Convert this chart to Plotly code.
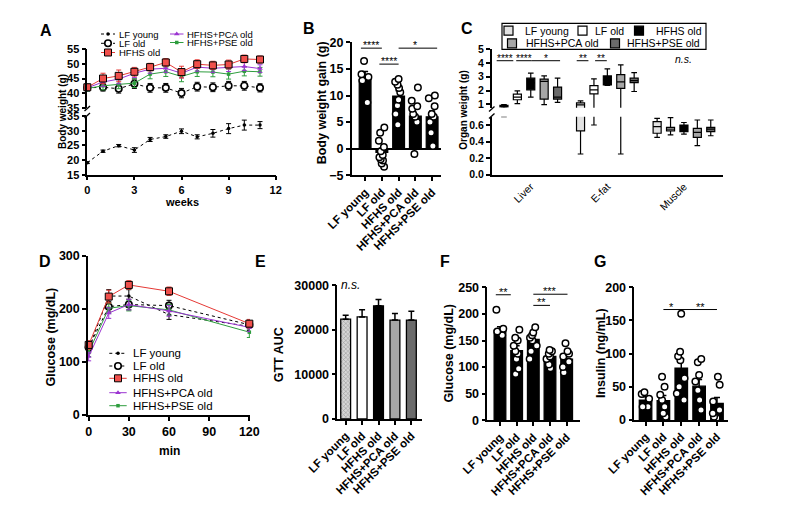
import plotly.graph_objects as go

# The page shows the figure 8 px in from the window's top-left corner, so the
# figure is 8 px smaller and all reference pixel positions are shifted by 8.
W, H = 790, 515
OFF = 8
FW, FH = W - OFF, H - OFF
FONT = "Liberation Sans, Arial, Helvetica, sans-serif"

# ---------------- data ----------------
groups = ["LF young", "LF old", "HFHS old", "HFHS+PCA old", "HFHS+PSE old"]
organs = ["Liver", "E-fat", "Muscle"]

# A: body weight (g) by week
weeks = [0, 1, 2, 3, 4, 5, 6, 7, 8, 9, 10, 11]
a_tick_weeks = [0, 3, 6, 9, 12]
a_lf_young = [19.1, 23.0, 24.9, 23.4, 27.0, 28.0, 29.8, 27.9, 29.1, 30.7, 31.9, 31.9]
a_lf_young_err = [0.3, 0.4, 0.4, 0.8, 0.7, 0.6, 0.8, 0.7, 1.3, 1.7, 1.7, 1.2]
a_lf_old = [41.8, 42.0, 41.5, 43.2, 41.8, 41.8, 40.0, 42.2, 42.0, 42.5, 42.5, 41.8]
a_lf_old_err = [1.2, 1.3, 1.5, 1.6, 1.5, 1.5, 1.6, 1.5, 1.5, 1.5, 1.5, 1.4]
a_hfhs = [42.0, 45.0, 45.9, 47.3, 48.9, 50.5, 47.2, 49.9, 49.5, 49.8, 51.7, 51.5]
a_hfhs_err = [1.0, 1.8, 2.0, 1.5, 1.3, 1.3, 2.0, 1.5, 1.4, 1.5, 1.3, 1.2]
a_pca = [41.8, 43.8, 44.8, 46.8, 48.2, 48.5, 46.8, 48.9, 48.5, 48.8, 49.1, 48.4]
a_pca_err = [1.0, 1.5, 1.6, 1.5, 1.4, 1.4, 1.6, 1.4, 1.4, 1.4, 1.4, 1.3]
a_pse = [41.6, 42.5, 43.0, 43.4, 46.5, 47.3, 45.7, 47.3, 47.2, 46.5, 47.5, 47.3]
a_pse_err = [1.0, 1.4, 1.5, 1.5, 1.6, 1.6, 1.8, 1.6, 1.6, 1.7, 1.6, 1.5]

# B: body weight gain (g)
b_mean = [13.0, -0.7, 9.9, 6.1, 6.0]
b_err = [1.5, 0.8, 1.0, 1.3, 1.1]
b_points = [
    [16.5, 14.0, 13.5, 12.8, 8.7],
    [4.0, 3.0, 1.5, 0.3, -0.5, -1.2, -1.6, -2.0, -2.2, -2.8, -3.4],
    [13.1, 12.6, 12.0, 11.4, 10.6, 9.2, 8.1, 6.5, 4.5],
    [11.5, 9.0, 8.0, 7.5, 6.5, 6.0, 5.0, -1.0],
    [10.0, 9.5, 8.0, 6.5, 6.0, 5.0, 3.0, 0.5],
]

# C: organ weight (g), box statistics per group: [Liver, E-fat, Muscle]
c_lower = [[0.70, 0.25, 0.45], [1.05, 0.60, 0.48], [1.52, 2.38, 0.49], [0.97, 0.25, 0.35], [1.14, 1.93, 0.47]]
c_q1 = [[0.80, 0.53, 0.50], [1.33, 1.76, 0.53], [2.05, 2.41, 0.52], [1.38, 2.15, 0.45], [1.38, 2.58, 0.52]]
c_median = [[0.86, 0.95, 0.58], [1.52, 2.05, 0.55], [2.55, 2.75, 0.56], [2.66, 2.63, 0.51], [1.52, 2.72, 0.55]]
c_q3 = [[0.93, 1.10, 0.64], [1.74, 2.36, 0.57], [2.90, 3.06, 0.60], [2.83, 3.16, 0.56], [2.25, 2.90, 0.57]]
c_upper = [[0.97, 1.25, 0.68], [1.98, 2.85, 0.69], [3.26, 3.57, 0.63], [3.07, 3.86, 0.66], [2.90, 3.30, 0.66]]

# D: glucose tolerance test (mg/dL)
d_minutes = [0, 15, 30, 60, 120]
d_tick_minutes = [0, 30, 60, 90, 120]
d_lf_young = [125, 224, 224, 189, 167]
d_lf_young_err = [8, 12, 12, 9, 8]
d_lf_old = [127, 204, 208, 206, 170]
d_lf_old_err = [8, 10, 10, 10, 8]
d_hfhs = [132, 223, 245, 233, 172]
d_hfhs_err = [8, 12, 8, 8, 8]
d_pca = [110, 192, 208, 196, 165]
d_pca_err = [8, 10, 10, 10, 8]
d_pse = [118, 201, 206, 198, 156]
d_pse_err = [8, 10, 10, 10, 10]

# E: GTT AUC
e_mean = [22400, 22900, 25400, 22200, 22200]
e_err = [900, 1600, 1400, 1500, 2000]

# F: fasting glucose (mg/dL)
f_mean = [169, 131, 152, 120, 115]
f_err = [7, 9, 7, 5, 6]
f_points = [
    [208, 172, 167, 160],
    [170, 155, 150, 140, 130, 125, 115, 97, 87],
    [175, 165, 160, 155, 150, 140, 130, 115],
    [132, 130, 125, 120, 115, 105, 98],
    [145, 130, 125, 120, 110, 100, 90],
]

# G: insulin (ng/mL)
g_mean = [30, 29, 78, 51, 25]
g_err = [5, 8, 14, 10, 9]
g_points = [
    [42, 39, 32, 20, 20],
    [65, 50, 38, 30, 20, 10, 5],
    [160, 103, 96, 90, 63, 50, 40, 30],
    [92, 87, 68, 58, 45, 30, 15],
    [65, 53, 28, 15, 10, 5, 3],
]

# ---------------- styles ----------------
LSTYLE = {
    "LF young": dict(color="black", dash="dot", symbol="circle", size=3.5, mcolor="black", mline="black", mlw=0),
    "LF old": dict(color="black", dash="dot", symbol="circle", size=6.5, mcolor="white", mline="black", mlw=1.6),
    "HFHS old": dict(color="#e53935", dash="solid", symbol="square", size=7, mcolor="#f0504c", mline="black", mlw=1),
    "HFHS+PCA old": dict(color="#9b34d1", dash="solid", symbol="triangle-up", size=5, mcolor="#9b34d1", mline="#9b34d1", mlw=0),
    "HFHS+PSE old": dict(color="#2e9d3e", dash="solid", symbol="square", size=3.5, mcolor="#2e9d3e", mline="#2e9d3e", mlw=0),
}
BOX_FILL = ["#e2e2e2", "white", "black", "#a6a6a6", "#6b6b6b"]


def pxx(x):
    return (x - OFF) / FW


def pxy(y):
    return 1 - (y - OFF) / FH


def dx(a, b):
    return [pxx(a), pxx(b)]


def dy(top, bottom):
    return [pxy(bottom), pxy(top)]


fig = go.Figure()


def add_line(x, y, err, name, xa, ya):
    st = LSTYLE[name]
    fig.add_trace(go.Scatter(
        x=x, y=y, mode="lines+markers", name=name, showlegend=False,
        xaxis=xa, yaxis=ya, cliponaxis=False,
        line=dict(color=st["color"], width=1, dash=st["dash"]),
        marker=dict(symbol=st["symbol"], size=st["size"], color=st["mcolor"],
                    line=dict(color=st["mline"], width=st["mlw"])),
        error_y=dict(type="data", array=err, color=st["color"], thickness=1, width=2.5)))


# ---- A ----
add_line(weeks, a_lf_young, a_lf_young_err, "LF young", "x", "y")
add_line(weeks, a_lf_old, a_lf_old_err, "LF old", "x", "y2")
add_line(weeks, a_pse, a_pse_err, "HFHS+PSE old", "x", "y2")
add_line(weeks, a_pca, a_pca_err, "HFHS+PCA old", "x", "y2")
add_line(weeks, a_hfhs, a_hfhs_err, "HFHS old", "x", "y2")


def add_bars(means, errs, xa, ya, colors="black", width=0.7, pattern=None, one_sided=False):
    err = dict(type="data", array=errs, color="black", thickness=1.5, width=3)
    if one_sided:
        err.update(symmetric=False, arrayminus=[0] * len(errs))
    marker = dict(color=colors, line=dict(color="black", width=1.3))
    if pattern:
        marker["pattern"] = pattern
    fig.add_trace(go.Bar(x=groups, y=means, xaxis=xa, yaxis=ya, width=width,
                         marker=marker, error_y=err, showlegend=False, hoverinfo="skip"))


def add_points(point_lists, xa, ya):
    xs = [g for g, pts in zip(groups, point_lists) for _ in pts]
    ys = [v for pts in point_lists for v in pts]
    fig.add_trace(go.Box(
        x=xs, y=ys, xaxis=xa, yaxis=ya, boxpoints="all", jitter=0.85, pointpos=0,
        width=0.6, fillcolor="rgba(0,0,0,0)", line=dict(color="rgba(0,0,0,0)", width=0),
        marker=dict(symbol="circle", size=6.5, color="white", line=dict(color="black", width=1.5)),
        showlegend=False, hoverinfo="skip"))


# ---- B ----
add_bars(b_mean, b_err, "x2", "y3")
add_points(b_points, "x2", "y3")

# ---- C ----
for i, g in enumerate(groups):
    for ya in ("y4", "y5"):
        fig.add_trace(go.Box(
            x=organs, q1=c_q1[i], median=c_median[i], q3=c_q3[i],
            lowerfence=c_lower[i], upperfence=c_upper[i],
            xaxis="x3", yaxis=ya, name=g, offsetgroup=g, alignmentgroup="organ",
            fillcolor=BOX_FILL[i], line=dict(color="black", width=1.2),
            whiskerwidth=0.7, boxpoints=False, showlegend=False, hoverinfo="skip"))

# ---- D ----
add_line(d_minutes, d_lf_young, d_lf_young_err, "LF young", "x4", "y6")
add_line(d_minutes, d_lf_old, d_lf_old_err, "LF old", "x4", "y6")
add_line(d_minutes, d_pse, d_pse_err, "HFHS+PSE old", "x4", "y6")
add_line(d_minutes, d_pca, d_pca_err, "HFHS+PCA old", "x4", "y6")
add_line(d_minutes, d_hfhs, d_hfhs_err, "HFHS old", "x4", "y6")

# ---- E ----
add_bars(e_mean, e_err, "x5", "y7", colors=["#d6d6d6", "white", "black", "#a6a6a6", "#6b6b6b"],
         width=0.6, one_sided=True,
         pattern=dict(shape=["x", "", "", "", ""], fgcolor="#555555", size=3, solidity=0.3))

# ---- F ----
add_bars(f_mean, f_err, "x6", "y8")
add_points(f_points, "x6", "y8")

# ---- G ----
add_bars(g_mean, g_err, "x7", "y9")
add_points(g_points, "x7", "y9")


# ---------------- legends (drawn in a pixel overlay) ----------------
def key_line(x1, x2, y, name):
    st = LSTYLE[name]
    fig.add_trace(go.Scatter(x=[x1, x2], y=[y, y], mode="lines", xaxis="x8", yaxis="y10",
                             line=dict(color=st["color"], width=1, dash=st["dash"]),
                             showlegend=False, hoverinfo="skip"))
    fig.add_trace(go.Scatter(x=[(x1 + x2) / 2], y=[y], mode="markers", xaxis="x8", yaxis="y10",
                             marker=dict(symbol=st["symbol"], size=st["size"], color=st["mcolor"],
                                         line=dict(color=st["mline"], width=st["mlw"])),
                             showlegend=False, hoverinfo="skip"))


def key_box(x, y, i):
    fig.add_trace(go.Scatter(x=[x], y=[y], mode="markers", xaxis="x8", yaxis="y10",
                             marker=dict(symbol="square", size=9, color=BOX_FILL[i],
                                         line=dict(color="black", width=1.2)),
                             showlegend=False, hoverinfo="skip"))


def text(t, x, y, size, bold=False, angle=0, xanchor="center", yanchor="middle"):
    fig.add_annotation(text=t, x=pxx(x), y=pxy(y), xref="paper", yref="paper", showarrow=False,
                       textangle=angle, xanchor=xanchor, yanchor=yanchor,
                       font=dict(family=FONT, size=size, color="black", weight="bold" if bold else "normal"))


# A legend
for name, y in zip(groups[:3], [34, 43.3, 52.5]):
    key_line(101, 115, y, name)
    text(name, 117, y, 9.5, xanchor="left")
for name, y in zip(groups[3:], [34, 42.5]):
    key_line(170, 183.5, y, name)
    text(name, 185, y, 9.5, xanchor="left")

# C legend
fig.add_shape(type="rect", xref="paper", yref="paper", x0=pxx(502), x1=pxx(706),
              y0=pxy(49.3), y1=pxy(23.3), line=dict(color="black", width=1.2))
for i, (kx, tx, y) in enumerate([(508.5, 522.5, 30.7), (582.5, 593, 30.7), (639, 653.5, 30.7),
                                 (512, 523.5, 43.3), (615, 625, 43.3)]):
    key_box(kx, y, i)
    text(groups[i], tx, y, 10.5, xanchor="left")

# D legend
for name, y in zip(groups, [353.3, 366, 378.3, 392.7, 405.7]):
    key_line(109.3, 126.7, y, name)
    text(name, 130.5, y, 11.5, xanchor="left")

# ---------------- axis titles and panel letters ----------------
text("Body weight (g)", 62.3, 111.7, 10, bold=True, angle=-90)
text("weeks", 181.7, 202.3, 11, bold=True)
text("Body weight gain (g)", 322.3, 103, 12.5, bold=True, angle=-90)
text("Organ weight (g)", 462.7, 110, 10, bold=True, angle=-90)
text("Glucose (mg/dL)", 50.7, 336.7, 12.5, bold=True, angle=-90)
text("min", 169.3, 450.7, 12, bold=True)
text("GTT AUC", 279.3, 355, 12.5, bold=True, angle=-90)
text("Glucose (mg/dL)", 449.3, 353.3, 12.5, bold=True, angle=-90)
text("Insulin (ng/mL)", 601.7, 353.3, 12.5, bold=True, angle=-90)

for letter, x, y in [("A", 46, 30), ("B", 309, 29), ("C", 467, 29), ("D", 45, 261),
                     ("E", 260, 261), ("F", 445, 261), ("G", 600, 261)]:
    text(letter, x, y, 16, bold=True)

# break marks on the split axes
for (x0, yc) in [(84.5, 108.5), (84.5, 115.5), (489, 109), (489, 116)]:
    fig.add_shape(type="line", xref="paper", yref="paper",
                  x0=pxx(x0), x1=pxx(x0 + 5.5), y0=pxy(yc + 2.5), y1=pxy(yc - 2.5),
                  line=dict(color="black", width=1.3))


# ---------------- significance marks ----------------
def sig(xref, yref, x0, x1, y, label, tx=None, size=10.5):
    fig.add_shape(type="line", xref=xref, yref=yref, x0=x0, x1=x1, y0=y, y1=y,
                  line=dict(color="black", width=1))
    fig.add_annotation(xref=xref, yref=yref, x=tx if tx is not None else (x0 + x1) / 2, y=y,
                       text=label, showarrow=False, yanchor="bottom", yshift=-5,
                       font=dict(family=FONT, size=size, color="black"))


sig("x2", "y3", -0.25, 1.0, 18.9, "****")
sig("x2", "y3", 0.85, 2.0, 15.9, "****")
sig("x2", "y3", 2.0, 4.3, 18.9, "*", tx=2.95)

sig("x3", "y5", -0.445, -0.228, 4.17, "****", size=10)
sig("x3", "y5", -0.19, 0.013, 4.17, "****", size=10)
sig("x3", "y5", 0.013, 0.383, 4.17, "*", tx=0.2, size=10)
sig("x3", "y5", 0.60, 0.753, 4.17, "**", size=10)
sig("x3", "y5", 0.84, 0.993, 4.17, "**", size=10)
fig.add_annotation(xref="x3", yref="y5", x=2.0, y=4.27, text="<i>n.s.</i>", showarrow=False,
                   font=dict(family=FONT, size=10.5, color="black"))

fig.add_annotation(xref="x5", yref="y7", x=0.3, y=30000, text="<i>n.s.</i>", showarrow=False,
                   font=dict(family=FONT, size=12, color="black"))

sig("x6", "y8", -0.25, 0.65, 236, "**", size=11)
sig("x6", "y8", 2.0, 4.05, 237, "***", size=11)
sig("x6", "y8", 2.0, 3.0, 216, "**", size=11)

sig("x7", "y9", 1.0, 4.0, 166.5, "*", tx=1.47, size=11)
fig.add_annotation(xref="x7", yref="y9", x=3.1, y=166.5, text="**", showarrow=False,
                   yanchor="bottom", yshift=-5, font=dict(family=FONT, size=11, color="black"))


# ---------------- axes ----------------
def ax(size=12, bold=True, **kw):
    d = dict(showline=True, linecolor="black", linewidth=1.5, ticks="outside", ticklen=4,
             tickwidth=1.5, tickcolor="black", showgrid=False, zeroline=False, fixedrange=True,
             automargin=False,
             tickfont=dict(family=FONT, size=size, color="black", weight="bold" if bold else "normal"))
    d.update(kw)
    return d


def cat_ax(domain, rng, anchor, size=11.5):
    return ax(size=size, domain=domain, range=rng, anchor=anchor, type="category",
              categoryorder="array", categoryarray=groups, tickangle=-45)


fig.update_layout(
    width=FW, height=FH, autosize=False,
    margin=dict(l=0, r=0, t=0, b=0, pad=0, autoexpand=False),
    paper_bgcolor="white", plot_bgcolor="rgba(0,0,0,0)",
    showlegend=False, boxmode="group", boxgap=0.125, boxgroupgap=0.4,
    font=dict(family=FONT, color="black"),
    # A
    xaxis=ax(size=11, domain=dx(87.3, 275.7), range=[0, 12], tickvals=a_tick_weeks, anchor="y"),
    yaxis=ax(size=11, domain=dy(116, 174.7), range=[15, 35], tickvals=[15, 20, 25, 30, 35], anchor="x"),
    yaxis2=ax(size=11, domain=dy(49.3, 107.7), range=[35, 55], tickvals=[35, 40, 45, 50, 55], anchor="x"),
    # B
    xaxis2=cat_ax(dx(351.7, 440.5), [-0.8, 4.5], "y3"),
    yaxis3=ax(size=12.5, domain=dy(42.3, 175.3), range=[-5, 20], tickvals=[-5, 0, 5, 10, 15, 20], anchor="x2",
              zeroline=True, zerolinecolor="black", zerolinewidth=1.5),
    # C
    xaxis3=ax(size=10.5, bold=False, domain=dx(491.7, 723), range=[-0.51, 2.51], anchor="y4",
              type="category", categoryorder="array", categoryarray=organs, tickangle=-45, ticks=""),
    yaxis4=ax(size=10.5, domain=dy(116.7, 174.7), range=[0, 0.7], tickvals=[0, 0.2, 0.4, 0.6],
              tickformat=".1f", anchor="x3"),
    yaxis5=ax(size=10.5, domain=dy(49.3, 107.7), range=[0.75, 5], tickvals=[1, 2, 3, 4, 5], anchor="x3"),
    # D
    xaxis4=ax(size=12.5, domain=dx(88, 250), range=[-0.5, 120.5], tickvals=d_tick_minutes, anchor="y6"),
    yaxis6=ax(size=12.5, domain=dy(255.7, 415), range=[0, 300], tickvals=[0, 100, 200, 300], anchor="x4"),
    # E
    xaxis5=cat_ax(dx(337.3, 421.7), [-0.51, 4.63], "y7"),
    yaxis7=ax(size=12.5, domain=dy(285.3, 419), range=[0, 30000], tickvals=[0, 10000, 20000, 30000],
              tickformat="d", anchor="x5"),
    # F
    xaxis6=cat_ax(dx(487.3, 580), [-0.76, 4.8], "y8"),
    yaxis8=ax(size=12.5, domain=dy(287.3, 420.3), range=[0, 250], tickvals=[0, 50, 100, 150, 200, 250], anchor="x6"),
    # G
    xaxis7=cat_ax(dx(634.3, 727.7), [-0.63, 4.6], "y9"),
    yaxis9=ax(size=12.5, domain=dy(287.3, 420), range=[0, 200], tickvals=[0, 50, 100, 150, 200], anchor="x7"),
    # pixel overlay for legend keys (window pixel coordinates)
    xaxis8=dict(domain=[0, 1], range=[OFF, W], visible=False, anchor="y10", fixedrange=True, automargin=False),
    yaxis10=dict(domain=[0, 1], range=[H, OFF], visible=False, anchor="x8", fixedrange=True, automargin=False),
)

fig.write_html("out.html")
